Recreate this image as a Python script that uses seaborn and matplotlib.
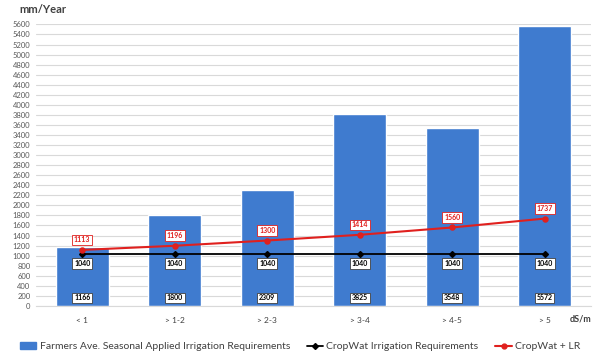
import matplotlib
matplotlib.use("Agg")
import matplotlib.pyplot as plt
import seaborn as sns
import pandas as pd
from matplotlib.lines import Line2D
from matplotlib.patches import Patch

# data
categories = ["< 1", "> 1-2", "> 2-3", "> 3-4", "> 4-5", "> 5"]
farmers = [1166, 1800, 2309, 3825, 3548, 5572]
cropwat = [1040, 1040, 1040, 1040, 1040, 1040]
cropwat_lr = [1113, 1196, 1300, 1414, 1560, 1737]

bar_color = "#3F7BCF"
red = "#E0201E"

sns.set_style("white")
plt.rcParams["font.family"] = ["Lato", "DejaVu Sans"]

df = pd.DataFrame({"cat": categories, "farmers": farmers,
                   "cropwat": cropwat, "lr": cropwat_lr})

fig, ax = plt.subplots(figsize=(6, 3.59), dpi=100)
fig.subplots_adjust(left=0.06, right=0.985, top=0.932, bottom=0.148)

sns.barplot(data=df, x="cat", y="farmers", color=bar_color, width=0.57,
            saturation=1, ax=ax, zorder=2)
sns.pointplot(data=df, x="cat", y="cropwat", color="black", markers="D",
              markersize=3, linewidth=1.3, ax=ax, zorder=3)
sns.pointplot(data=df, x="cat", y="lr", color=red, markers="o",
              markersize=3.5, linewidth=1.5, ax=ax, zorder=4)

ax.set_ylim(0, 5600)
ax.set_yticks(range(0, 5601, 200))
ax.yaxis.grid(True, color="#D9D9D9", linewidth=0.8, zorder=0)
ax.set_axisbelow(True)
for s in ["top", "right", "left"]:
    ax.spines[s].set_visible(False)
ax.spines["bottom"].set_color("#D9D9D9")
ax.tick_params(axis="y", labelsize=5.5, colors="#595959", length=0, pad=4)
ax.tick_params(axis="x", labelsize=6, colors="#404040", length=0, pad=8)
ax.set_xlabel("")
ax.set_ylabel("")
ax.set_xlim(-0.5, 5.5)

ax.text(-0.03, 1.035, "mm/Year", transform=ax.transAxes, fontsize=8,
        fontweight="bold", color="#404040", ha="left", va="bottom")
ax.text(1.0, -0.03, "dS/m", transform=ax.transAxes, fontsize=6.5,
        fontweight="bold", color="#404040", ha="right", va="top")

box_black = dict(boxstyle="square,pad=0.25", fc="white", ec="#404040", lw=0.6)
box_red = dict(boxstyle="square,pad=0.25", fc="white", ec=red, lw=0.6)
for i in range(len(categories)):
    ax.text(i, 160, str(farmers[i]), ha="center", va="center", fontsize=5,
            fontweight="bold", color="black", bbox=box_black, zorder=6)
    ax.text(i, cropwat[i] - 200, str(cropwat[i]), ha="center", va="center",
            fontsize=5, fontweight="bold", color="black", bbox=box_black, zorder=6)
    ax.text(i, cropwat_lr[i] + 200, str(cropwat_lr[i]), ha="center", va="center",
            fontsize=5, fontweight="bold", color=red, bbox=box_red, zorder=6)

handles = [
    Patch(color=bar_color, label="Farmers Ave. Seasonal Applied Irrigation Requirements"),
    Line2D([], [], color="black", marker="D", markersize=3, lw=1.3,
           label="CropWat Irrigation Requirements"),
    Line2D([], [], color=red, marker="o", markersize=3.5, lw=1.5,
           label="CropWat + LR"),
]
fig.legend(handles=handles, loc="lower center", ncol=3, frameon=False,
           fontsize=7.5, bbox_to_anchor=(0.5, -0.005), columnspacing=1.6,
           handlelength=1.6, handletextpad=0.3, labelcolor="#404040")

fig.savefig("out.png", dpi=100)
